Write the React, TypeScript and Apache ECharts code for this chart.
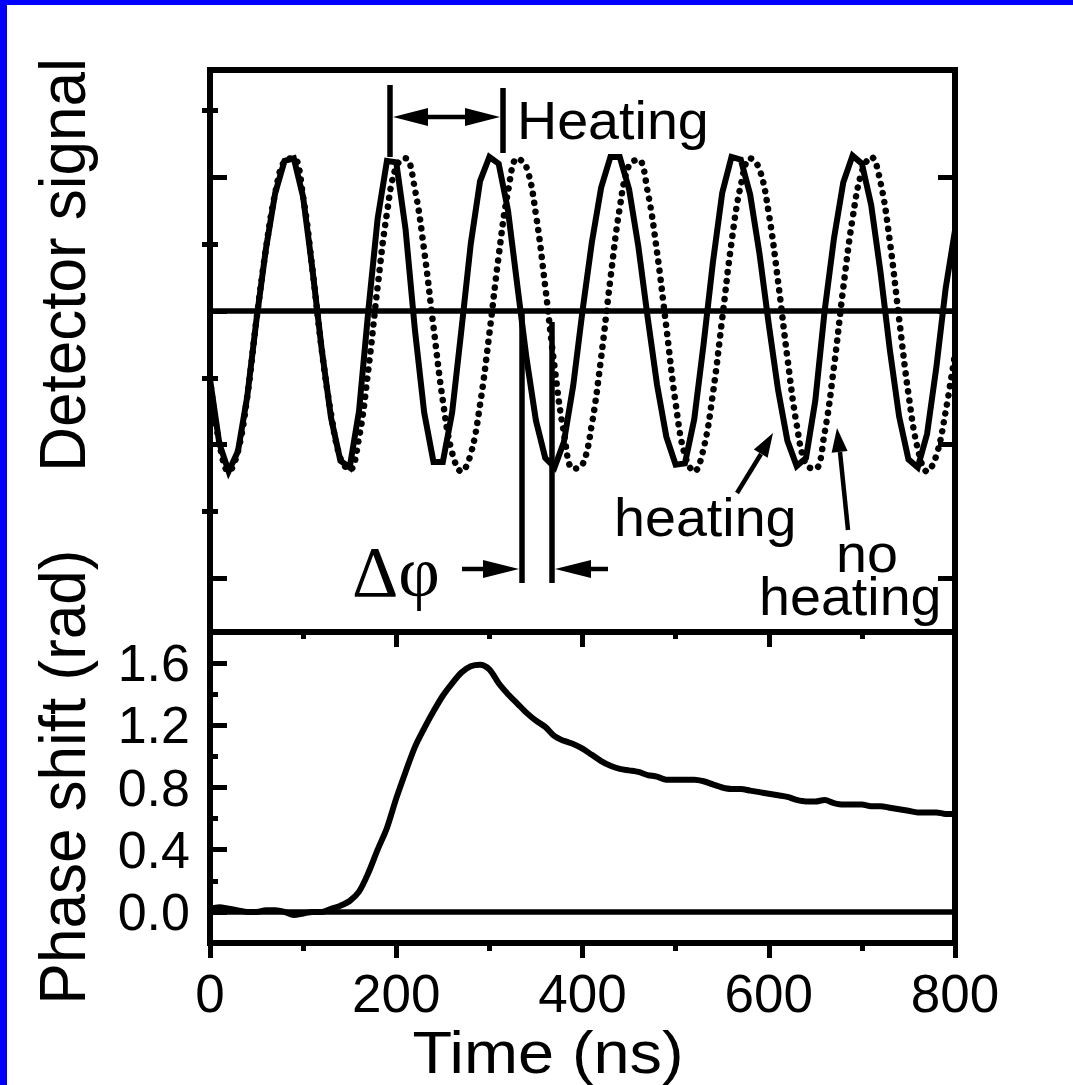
import React, { useEffect, useRef } from "react";
import * as echarts from "echarts";

// ---------- data ----------
const timeNs = [
  0, 10, 20, 30, 40, 50, 60, 70, 80, 90, 100, 110, 120, 130, 140, 150, 160, 170, 180, 190,
  200, 210, 220, 230, 240, 250, 260, 270, 280, 290, 300, 310, 320, 330, 340, 350, 360, 370, 380, 390,
  400, 410, 420, 430, 440, 450, 460, 470, 480, 490, 500, 510, 520, 530, 540, 550, 560, 570, 580, 590,
  600, 610, 620, 630, 640, 650, 660, 670, 680, 690, 700, 710, 720, 730, 740, 750, 760, 770, 780, 790,
  800,
];

// detector signal with heating (solid)
const heatingSignal = [
  -0.51, -0.99, -1.2, -1.05, -0.64, -0.06, 0.46, 0.88, 1.12, 1.14,
  0.85, 0.31, -0.29, -0.8, -1.12, -1.17, -0.75, 0.0, 0.69, 1.12,
  1.11, 0.61, -0.14, -0.76, -1.13, -1.13, -0.76, -0.14, 0.5, 0.97,
  1.15, 1.1, 0.75, 0.19, -0.36, -0.82, -1.1, -1.17, -0.98, -0.56,
  0.0, 0.51, 0.92, 1.15, 1.15, 0.91, 0.48, -0.05, -0.55, -0.94,
  -1.15, -1.14, -0.81, -0.25, 0.36, 0.88, 1.15, 1.13, 0.87, 0.43,
  -0.1, -0.59, -0.97, -1.16, -1.1, -0.67, 0.0, 0.54, 0.96, 1.16,
  1.1, 0.79, 0.29, -0.29, -0.79, -1.11, -1.17, -0.92, -0.42, 0.17,
  0.6,
];

// detector signal without heating (dotted)
const noHeatingSignal = [
  -0.51, -0.99, -1.2, -1.05, -0.64, -0.06, 0.46, 0.88, 1.12, 1.14,
  0.85, 0.31, -0.29, -0.77, -1.1, -1.19, -0.95, -0.44, 0.18, 0.73,
  1.08, 1.14, 0.91, 0.45, -0.12, -0.67, -1.06, -1.2, -1.07, -0.7,
  -0.17, 0.41, 0.89, 1.14, 1.07, 0.72, 0.18, -0.42, -0.91, -1.18,
  -1.15, -0.85, -0.35, 0.24, 0.77, 1.09, 1.13, 0.89, 0.44, -0.12,
  -0.69, -1.08, -1.2, -1.03, -0.62, -0.06, 0.51, 0.94, 1.14, 1.06,
  0.73, 0.22, -0.35, -0.85, -1.15, -1.18, -0.91, -0.42, 0.17, 0.69,
  1.04, 1.15, 0.96, 0.52, -0.06, -0.62, -1.03, -1.2, -1.08, -0.75,
  -0.32,
];

// phase shift (rad)
const phaseShift = [
  0.02, 0.03, 0.02, 0.01, 0.0, 0.0, 0.01, 0.01, 0.0, -0.02,
  -0.01, 0.0, 0.0, 0.02, 0.04, 0.07, 0.13, 0.25, 0.4, 0.54,
  0.73, 0.9, 1.06, 1.18, 1.29, 1.39, 1.47, 1.54, 1.58, 1.59,
  1.56, 1.47, 1.4, 1.34, 1.28, 1.23, 1.19, 1.13, 1.1, 1.08,
  1.05, 1.01, 0.97, 0.94, 0.92, 0.91, 0.9, 0.88, 0.87, 0.85,
  0.85, 0.85, 0.85, 0.84, 0.82, 0.8, 0.79, 0.79, 0.78, 0.77,
  0.76, 0.75, 0.74, 0.72, 0.71, 0.71, 0.72, 0.7, 0.69, 0.69,
  0.69, 0.68, 0.68, 0.67, 0.66, 0.65, 0.64, 0.64, 0.64, 0.63,
  0.63,
];

// tick values
const signalMajorTicks = [-2, -1, 0, 1];
const signalMinorTicks = [-1.5, -0.5, 0.5, 1.5];
const phaseMajorTicks = [0, 0.4, 0.8, 1.2, 1.6];
const phaseMinorTicks = [0.2, 0.6, 1.0, 1.4];
const phaseRightTicks = [0, 0.2, 0.4, 0.6, 0.8, 1.0, 1.2, 1.4, 1.6];

const ink = "#000000";
const sans = "'Liberation Sans', Arial, Helvetica, sans-serif";
const serif = "'Liberation Serif', 'Times New Roman', serif";

function frameLine() {
  return { show: true, onZero: false, lineStyle: { color: ink, width: 6, cap: "square" } };
}

function yAxisDef(grid: number, pos: string, min: number, max: number, ticks: number[], len: number, inside: boolean, showLine: boolean, labels?: number[]) {
  return {
    type: "value",
    gridIndex: grid,
    position: pos,
    min,
    max,
    axisLine: showLine ? frameLine() : { show: false },
    axisTick: {
      show: true,
      inside,
      length: len,
      customValues: ticks,
      lineStyle: { color: ink, width: 5 },
    },
    axisLabel: labels
      ? {
          show: true,
          customValues: labels,
          formatter: (v: number) => v.toFixed(1),
          fontSize: 52,
          fontFamily: sans,
          color: ink,
          margin: 20,
        }
      : { show: false },
    splitLine: { show: false },
  };
}

function txt(text: string, x: number, y: number, size: number, align: string, opts: any = {}) {
  return {
    type: "text",
    x,
    y,
    z: 100,
    ...opts,
    style: {
      text,
      fontSize: size,
      fontFamily: opts.family || sans,
      fill: ink,
      align,
      textAlign: align,
      verticalAlign: "middle",
      textVerticalAlign: "middle",
    },
  };
}

function seg(x1: number, y1: number, x2: number, y2: number, w: number) {
  return { type: "line", z: 100, shape: { x1, y1, x2, y2 }, style: { stroke: ink, lineWidth: w } };
}

function tri(points: number[][]) {
  return { type: "polygon", z: 100, shape: { points }, style: { fill: ink } };
}

export default function App() {
  const ref = useRef<HTMLDivElement>(null);

  useEffect(() => {
    if (!ref.current) return;
    const chart = echarts.init(ref.current, null, { renderer: "svg" });

    const zeroMark = {
      silent: true,
      symbol: ["none", "none"],
      label: { show: false },
      lineStyle: { color: ink, width: 5.5, type: "solid" },
      data: [{ yAxis: 0 }],
    };

    const option: any = {
      animation: false,
      backgroundColor: "#ffffff",
      grid: [
        { left: 210, top: 70, width: 745, height: 562, containLabel: false, outerBoundsMode: "none" },
        { left: 210, top: 632, width: 745, height: 311, containLabel: false, outerBoundsMode: "none" },
      ],
      xAxis: [
        {
          type: "value", gridIndex: 0, position: "bottom", min: 0, max: 800, interval: 200,
          axisLine: frameLine(), axisTick: { show: false }, axisLabel: { show: false }, splitLine: { show: false },
        },
        {
          type: "value", gridIndex: 0, position: "top", min: 0, max: 800, interval: 100,
          axisLine: frameLine(),
          axisTick: { show: true, inside: false, length: 3, lineStyle: { color: ink, width: 3 } },
          axisLabel: { show: false }, splitLine: { show: false },
        },
        {
          type: "value", gridIndex: 1, position: "top", min: 0, max: 800, interval: 200,
          axisLine: frameLine(),
          axisTick: { show: true, inside: true, length: 15, lineStyle: { color: ink, width: 5 } },
          minorTick: { show: true, splitNumber: 2, length: 7, lineStyle: { color: ink, width: 5 } },
          axisLabel: { show: false }, splitLine: { show: false }, minorSplitLine: { show: false },
        },
        {
          type: "value", gridIndex: 1, position: "bottom", min: 0, max: 800, interval: 200,
          axisLine: frameLine(),
          axisTick: { show: true, inside: false, length: 15, lineStyle: { color: ink, width: 5 } },
          minorTick: { show: true, splitNumber: 2, length: 8, lineStyle: { color: ink, width: 5 } },
          axisLabel: { show: true, fontSize: 53, fontFamily: sans, color: ink, margin: 24 },
          splitLine: { show: false }, minorSplitLine: { show: false },
        },
      ],
      yAxis: [
        yAxisDef(0, "left", -2.4, 1.8, signalMajorTicks, 17, true, true),
        yAxisDef(0, "left", -2.4, 1.8, signalMinorTicks, 8, true, false),
        yAxisDef(0, "right", -2.4, 1.8, signalMajorTicks, 17, true, true),
        yAxisDef(0, "right", -2.4, 1.8, signalMinorTicks, 8, true, false),
        yAxisDef(1, "left", -0.2, 1.8, phaseMajorTicks, 17, true, true, phaseMajorTicks),
        yAxisDef(1, "left", -0.2, 1.8, phaseMinorTicks, 8, true, false),
        yAxisDef(1, "right", -0.2, 1.8, phaseRightTicks, 3, false, true),
      ],
      series: [
        {
          type: "line",
          name: "heating",
          xAxisIndex: 0,
          yAxisIndex: 0,
          data: timeNs.map((t, i) => [t, heatingSignal[i]]),
          symbol: "none",
          showSymbol: false,
          lineStyle: { color: ink, width: 6, join: "miter" },
          markLine: zeroMark,
          z: 3,
        },
        {
          type: "line",
          name: "no heating",
          xAxisIndex: 0,
          yAxisIndex: 0,
          data: timeNs.map((t, i) => [t, noHeatingSignal[i]]),
          symbol: "none",
          showSymbol: false,
          smooth: 0.4,
          lineStyle: { color: ink, width: 6.5, type: [0.1, 9], cap: "round" },
          z: 2,
        },
        {
          type: "line",
          name: "phase shift",
          xAxisIndex: 3,
          yAxisIndex: 4,
          data: timeNs.map((t, i) => [t, phaseShift[i]]),
          symbol: "none",
          showSymbol: false,
          smooth: 0.3,
          lineStyle: { color: ink, width: 6 },
          markLine: zeroMark,
        },
      ],
      graphic: [
        { type: "rect", z: 100, shape: { x: 0, y: 0, width: 1073, height: 5 }, style: { fill: "#0000ff" } },
        { type: "rect", z: 100, shape: { x: 0, y: 0, width: 7, height: 1085 }, style: { fill: "#0000ff" } },
        txt("Detector signal", 62, 265, 62, "center", { rotation: Math.PI / 2, scaleY: 1.06 }),
        txt("Phase shift (rad)", 62, 777, 62, "center", { rotation: Math.PI / 2, scaleY: 1.06 }),
        txt("Time (ns)", 548, 1052, 60, "center", { scaleX: 1.08 }),
        // heating window marker
        seg(390, 85, 390, 157, 5.5),
        seg(503, 88, 503, 153, 5.5),
        seg(420, 117, 470, 117, 4.5),
        tri([[393, 117], [428, 108], [428, 126]]),
        tri([[500, 117], [465, 108], [465, 126]]),
        txt("Heating", 517, 121, 53, "left", { scaleX: 1.05 }),
        // phase shift marker
        seg(522, 311, 522, 583, 5.5),
        seg(552, 322, 552, 583, 5.5),
        seg(462, 569, 490, 569, 4.5),
        tri([[519, 569], [483, 560], [483, 578]]),
        seg(580, 569, 608, 569, 4.5),
        tri([[555, 569], [591, 560], [591, 578]]),
        txt("Δφ", 352, 572, 72, "left", { family: serif }),
        // curve labels
        txt("heating", 614, 518, 53, "left", { scaleX: 1.05 }),
        seg(737, 493, 761, 454, 4.5),
        tri([[773, 433], [767.6, 457.7], [753.8, 449.5]]),
        txt("no", 836, 554, 53, "left", { scaleX: 1.05 }),
        txt("heating", 759, 597, 53, "left", { scaleX: 1.05 }),
        seg(848, 530, 840, 452, 4.5),
        tri([[837, 428], [847.6, 451], [831.6, 452.8]]),
      ],
    };

    chart.setOption(option);
    return () => chart.dispose();
  }, []);

  return (
    <div
      ref={ref}
      style={{ position: "absolute", left: 0, top: 0, width: 1073, height: 1085, background: "#fff" }}
    />
  );
}
